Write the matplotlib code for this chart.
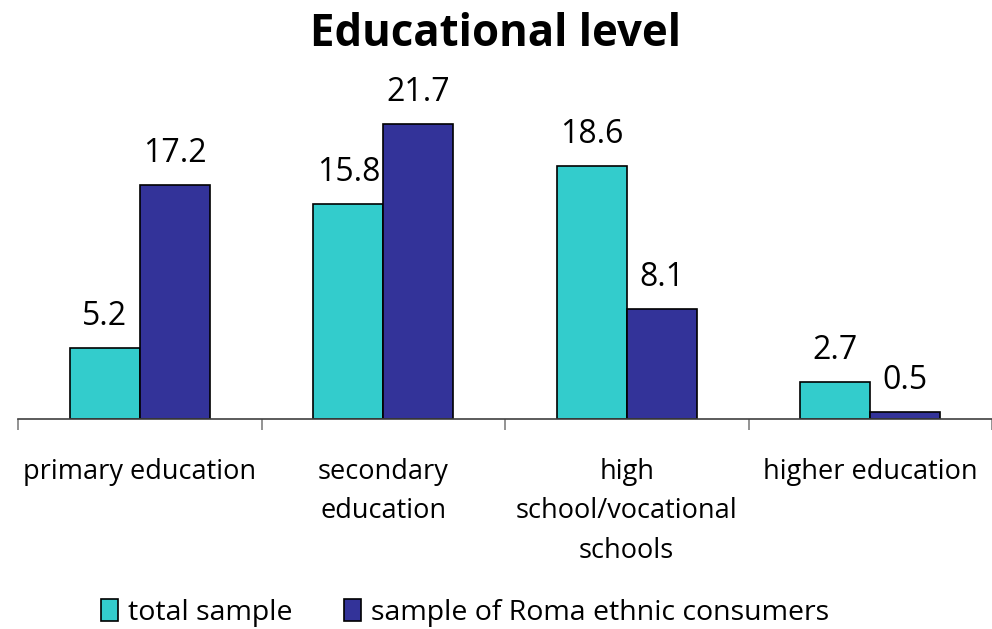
import matplotlib
matplotlib.use("Agg")
import matplotlib.pyplot as plt
import numpy as np

categories = ["primary education", "secondary\neducation", "high\nschool/vocational\nschools", "higher education"]
total_sample = [5.2, 15.8, 18.6, 2.7]
roma_sample = [17.2, 21.7, 8.1, 0.5]
series_names = ["total sample", "sample of Roma ethnic consumers"]
title = "Educational level"

FONT = ["Open Sans", "DejaVu Sans"]
plt.rcParams['font.family'] = FONT

W, H = 992, 629
fig = plt.figure(figsize=(W/100, H/100), dpi=100)
base_y = 419
top_y = 60
ax = fig.add_axes([18/W, (H-base_y)/H, 1-18/W, (base_y-top_y)/H])
x = np.arange(len(categories))
bw = 0.287
c1, c2 = "#33CCCC", "#333399"
b1 = ax.bar(x - bw/2, total_sample, bw, color=c1, edgecolor="black", linewidth=1.2, label=series_names[0])
b2 = ax.bar(x + bw/2, roma_sample, bw, color=c2, edgecolor="black", linewidth=1.2, label=series_names[1])
ax.set_xlim(-0.5, 3.492)
ax.set_ylim(0, (base_y-top_y)/13.6)
for bars, vals in ((b1, total_sample), (b2, roma_sample)):
    for b, v in zip(bars, vals):
        ax.annotate(f"{v:.1f}", (b.get_x()+b.get_width()/2, v), xytext=(0, 11),
                    textcoords="offset points", ha="center", va="bottom", fontsize=23)
for s in ("top", "right", "left"):
    ax.spines[s].set_visible(False)
ax.spines["bottom"].set_color("#404040")
ax.spines["bottom"].set_linewidth(1.2)
ax.set_yticks([])
ax.set_xticks(np.arange(-0.5, 4, 1))
ax.set_xticklabels([])
ax.tick_params(axis="x", length=8, width=1.2, color="#808080", direction="out")
ax.set_xticks(x, minor=True)
ax.set_xticklabels(categories, minor=True, fontsize=19.5, linespacing=1.55, va="top")
ax.tick_params(axis="x", which="minor", length=0, pad=28)
fig.text(0.5, 1-34/H, title, ha="center", va="center", fontsize=31.5, fontweight="bold")
fig.legend(handles=[b1, b2], loc="center", bbox_to_anchor=(465/W, 1-613/H), ncol=2,
           frameon=False, fontsize=20.5, handlelength=0.6, handleheight=0.8,
           handletextpad=0.35, columnspacing=1.8)
fig.savefig("out.png", dpi=100)
